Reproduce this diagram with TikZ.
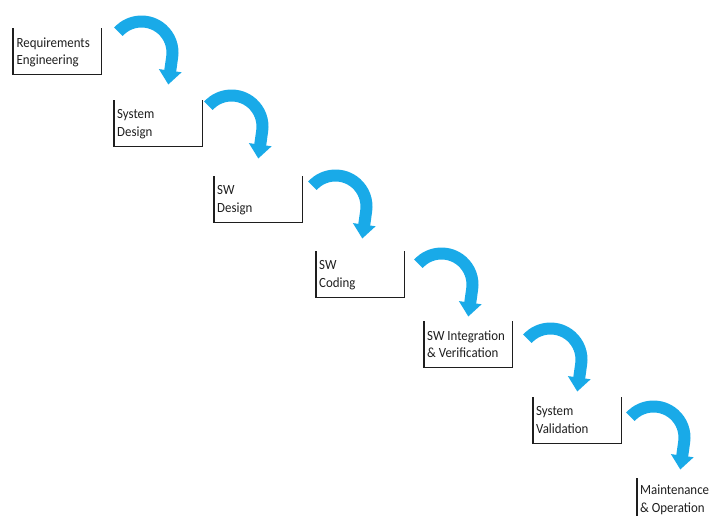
\documentclass[tikz,border=0pt]{standalone}
\usepackage{fontspec}
\setmainfont{Carlito}[FakeStretch=0.92]
\usetikzlibrary{arrows.meta,calc}
\definecolor{flowblue}{RGB}{25,170,232}
\definecolor{inkgray}{RGB}{30,30,30}
\tikzset{
  stagebox/.style={draw=none, minimum width=88pt, minimum height=46pt, inner sep=0pt, anchor=north west},
  stagetext/.style={anchor=north west, inner sep=0pt, align=left, text=inkgray,
    font=\fontsize{14}{17.5}\selectfont},
  frame/.style={draw=inkgray, line width=1.2pt},
  flow/.style={draw=flowblue, line width=12pt, -{Triangle[length=14pt,width=22pt]}},
}
\begin{document}
\begin{tikzpicture}[x=1pt,y=-1pt]
\useasboundingbox (0,0) rectangle (716,515);
\clip (0,0) rectangle (716,515);
% stage boxes
\node[stagebox] (b1) at (13,28) {};
\node[stagebox] (b2) at (114,100) {};
\node[stagebox] (b3) at (214,176) {};
\node[stagebox] (b4) at (316,251) {};
\node[stagebox] (b5) at (424,321) {};
\node[stagebox] (b6) at (533,397) {};
\node[stagebox] (b7) at (637,478) {};
% open-top frames
\foreach \b in {b1,b2,b3,b4,b5,b6}{
  \draw[frame] (\b.north west) -- (\b.south west) -- (\b.south east) -- (\b.north east);
}
\draw[frame] (b7.north west) -- (b7.south west);
% texts
\node[stagetext] (t1) at ($(b1.north west)+(3.5,9.5)$) {Requirements\\Engineering};
\node[stagetext] (t2) at ($(b2.north west)+(3,9.5)$) {System\\Design};
\node[stagetext] (t3) at ($(b3.north west)+(3,9.5)$) {SW\\Design};
\node[stagetext] (t4) at ($(b4.north west)+(3,9.5)$) {SW\\Coding};
\node[stagetext] (t5) at ($(b5.north west)+(3,9.5)$) {SW Integration\\\& Verification};
\node[stagetext] (t6) at ($(b6.north west)+(3,9.5)$) {System\\Validation};
\node[stagetext] (t7) at ($(b7.north west)+(3,7)$) {Maintenance\\\& Operation};
% curved arrows
\coordinate (c1) at (141.5,52.5);
\coordinate (c2) at (231.5,126.5);
\coordinate (c3) at (335.5,206.5);
\coordinate (c4) at (441.5,284.5);
\coordinate (c5) at (550.5,359.5);
\coordinate (c6) at (653.5,437.5);
\foreach \c in {c1,c2,c3,c4,c5,c6}{
  \draw[flow] ($(\c)+(-138:31)$) arc[start angle=-138, end angle=8, radius=31] -- ++(98:28);
}
\end{tikzpicture}
\end{document}
